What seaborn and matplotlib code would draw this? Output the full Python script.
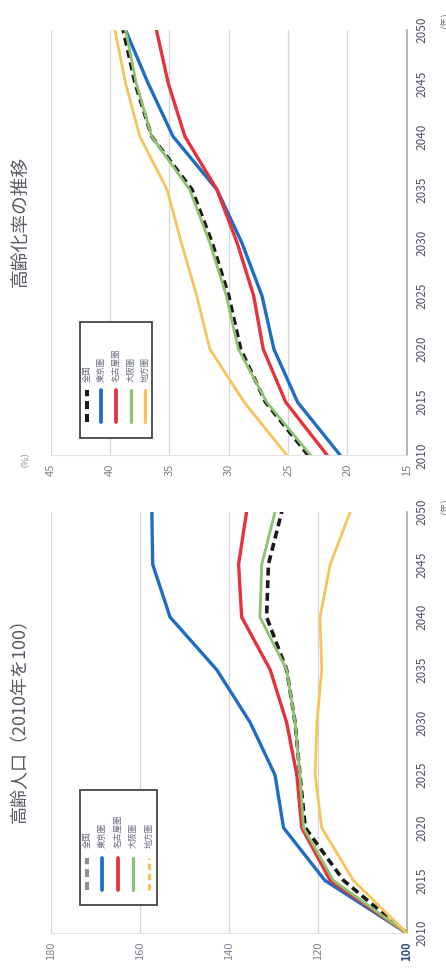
import numpy as np
import pandas as pd
import seaborn as sns
import matplotlib
matplotlib.use("Agg")
import matplotlib.pyplot as plt
from matplotlib.patches import Rectangle

# ---- data ----
years = [2010, 2015, 2020, 2025, 2030, 2035, 2040, 2045, 2050]
areas = ["全国", "東京圏", "名古屋圏", "大阪圏", "地方圏"]

# 高齢人口（2010年=100）
pop_national = [100, 114.2, 122.8, 124.0, 125.1, 127.0, 131.5, 131.1, 128.1]
pop_tokyo    = [100, 118.4, 127.7, 129.6, 135.2, 142.7, 153.2, 157.1, 157.3]
pop_nagoya   = [100, 117.2, 123.6, 124.7, 127.0, 130.7, 137.1, 137.8, 136.0]
pop_osaka    = [100, 116.5, 123.2, 124.0, 125.1, 127.0, 133.0, 132.6, 129.6]
pop_local    = [100, 112.0, 119.1, 120.6, 120.2, 119.1, 119.5, 117.2, 112.7]

# 高齢化率（%）
rate_national = [23.3, 26.9, 29.0, 30.0, 31.4, 33.1, 36.5, 37.9, 38.9]
rate_tokyo    = [20.6, 24.2, 26.2, 27.2, 28.9, 31.0, 34.7, 36.8, 38.7]
rate_nagoya   = [21.7, 25.2, 27.1, 27.9, 29.3, 31.0, 33.7, 35.1, 36.1]
rate_osaka    = [23.1, 26.8, 29.2, 30.2, 31.6, 33.3, 36.5, 37.8, 38.7]
rate_local    = [25.1, 28.7, 31.6, 32.7, 34.0, 35.2, 37.5, 38.7, 39.6]

pop_ticks = [100, 120, 140, 160, 180]
rate_ticks = [15, 20, 25, 30, 35, 40, 45]
year_ticks = [2010, 2015, 2020, 2025, 2030, 2035, 2040, 2045, 2050]

# ---- styling ----
colors = {"全国": "#1a1a1a", "東京圏": "#1f6cc4", "名古屋圏": "#e5323b",
          "大阪圏": "#8dc26f", "地方圏": "#f7c45c"}
widths = {"全国": 2.6, "東京圏": 2.4, "名古屋圏": 2.4, "大阪圏": 2.0, "地方圏": 2.0}
dashes = {"全国": (2.2, 1.3), "東京圏": None, "名古屋圏": None, "大阪圏": None, "地方圏": None}

sns.set_theme(style="white")
plt.rcParams["font.family"] = ["Noto Sans CJK JP", "DejaVu Sans"]

TICK_GRAY = "#7d8290"
YEAR_GRAY = "#4d5266"
GRID = "#d6d6d6"


def long_frame(series):
    rows = []
    for area, vals in zip(areas, series):
        for y, v in zip(years, vals):
            rows.append({"area": area, "year": y, "value": v})
    return pd.DataFrame(rows)


def draw_panel(ax, df, vlim, vticks):
    for area in areas:
        sub = df[df["area"] == area]
        kw = {}
        if dashes[area] is not None:
            kw["dashes"] = dashes[area]
        line_ax = sns.lineplot(data=sub, x="value", y="year", orient="y", ax=ax,
                               color=colors[area], linewidth=widths[area],
                               legend=False, zorder=3, **kw)
    ax.set_xlim(vlim[1], vlim[0])
    ax.set_ylim(2010, 2050)
    ax.set_xticks(vticks)
    ax.set_yticks(year_ticks)
    for v in vticks:
        ax.axvline(v, color=GRID, lw=0.9, zorder=1)
    ax.set_xlabel("")
    ax.set_ylabel("")
    ax.yaxis.tick_right()
    ax.tick_params(axis="x", length=0, pad=6, labelsize=8, labelcolor=TICK_GRAY, labelrotation=90)
    ax.tick_params(axis="y", length=0, pad=6, labelsize=8.5, labelcolor=YEAR_GRAY, labelrotation=90)
    for lab in ax.get_yticklabels():
        lab.set_va("center")
    for s in ["top", "left"]:
        ax.spines[s].set_visible(False)
    ax.spines["right"].set_color("#a8a8a8")
    ax.spines["right"].set_linewidth(1.2)
    ax.spines["bottom"].set_color("#e2e2e2")
    ax.spines["bottom"].set_linewidth(0.8)


def draw_key(ax, box, cols, handle_y, text_y, first_color, last_dashed):
    x0, x1, y0, y1 = box
    ax.add_patch(Rectangle((x0, y0), x1 - x0, y1 - y0, transform=ax.transAxes,
                           facecolor="white", edgecolor="#444444", lw=1.3, zorder=5))
    for i, (area, cx) in enumerate(zip(areas, cols)):
        c = first_color if i == 0 else colors[area]
        ls_kw = {}
        if i == 0:
            ls_kw["dashes"] = (2.0, 1.2)
        elif i == len(areas) - 1 and last_dashed:
            ls_kw["dashes"] = (2.0, 1.2)
        ax.plot([cx, cx], handle_y, transform=ax.transAxes, color=c,
                lw=widths[area] + 0.3, zorder=6, solid_capstyle="round", **ls_kw)
        ax.text(cx, text_y, area, transform=ax.transAxes, rotation=90,
                ha="center", va="bottom", fontsize=6, color="#6a7080", zorder=6)


fig = plt.figure(figsize=(4.46, 9.73), dpi=100)
ax_pop = fig.add_axes([0.114, 0.041, 0.798, 0.433])
ax_rate = fig.add_axes([0.114, 0.532, 0.798, 0.437])

pop_df = long_frame([pop_national, pop_tokyo, pop_nagoya, pop_osaka, pop_local])
rate_df = long_frame([rate_national, rate_tokyo, rate_nagoya, rate_osaka, rate_local])

draw_panel(ax_pop, pop_df, (100, 180), pop_ticks)
draw_panel(ax_rate, rate_df, (15, 45), rate_ticks)

# base value of the index axis emphasised
for lab in ax_pop.get_xticklabels():
    if lab.get_text() == "100":
        lab.set_color("#2d4a7a")
        lab.set_fontweight("bold")

draw_key(ax_pop, (0.081, 0.298, 0.067, 0.340),
         [0.101, 0.143, 0.188, 0.230, 0.275], [0.102, 0.178], 0.202,
         first_color="#8a9099", last_dashed=True)
draw_key(ax_rate, (0.082, 0.285, 0.040, 0.313),
         [0.101, 0.141, 0.183, 0.225, 0.265], [0.078, 0.153], 0.172,
         first_color="#1a1a1a", last_dashed=False)

# titles and unit labels
fig.text(0.045, 0.264, "高齢人口（2010年を100）", rotation=90, ha="center", va="center",
         fontsize=13, color="#555a66")
fig.text(0.045, 0.772, "高齢化率の推移", rotation=90, ha="center", va="center",
         fontsize=13.5, color="#555a66")
fig.text(0.045, 0.534, "（%）", rotation=90, ha="center", va="center",
         fontsize=6.5, color="#8a8f9c")
fig.text(0.987, 0.486, "（年）", rotation=90, ha="center", va="center",
         fontsize=6.5, color="#6a7080")
fig.text(0.987, 0.985, "（年）", rotation=90, ha="center", va="center",
         fontsize=6.5, color="#6a7080")

fig.savefig("out.png", dpi=100, facecolor="white")
